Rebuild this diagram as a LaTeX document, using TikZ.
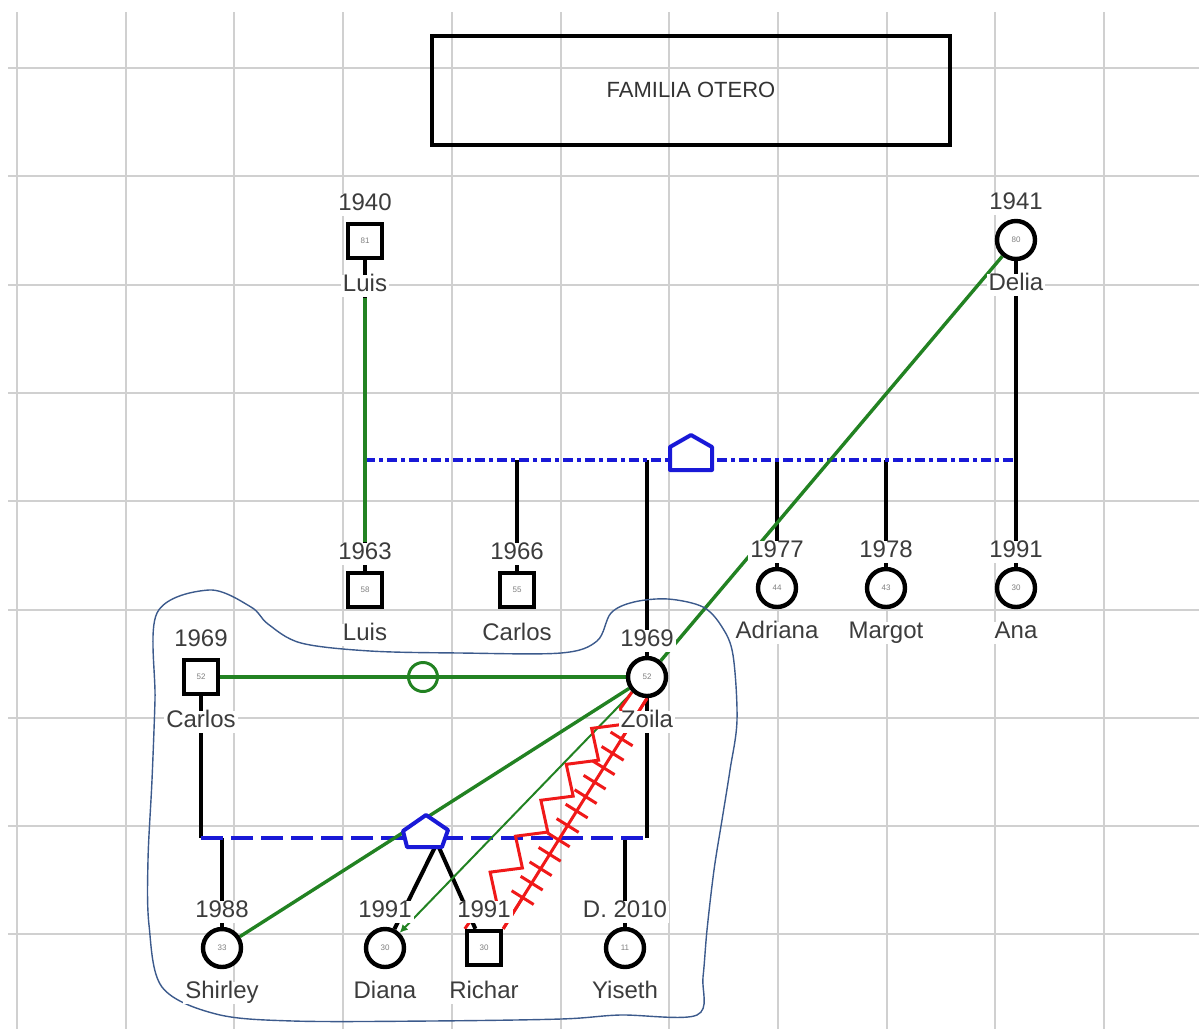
\documentclass[tikz,border=0pt]{standalone}
\usepackage{fontspec}
\setmainfont{Liberation Sans}
\usetikzlibrary{arrows.meta, positioning, calc, backgrounds, decorations.pathmorphing, decorations.pathreplacing}

\definecolor{relgreen}{RGB}{34,130,34}
\definecolor{famblue}{RGB}{25,25,215}
\definecolor{conflictred}{RGB}{240,25,25}
\definecolor{outlineblue}{RGB}{60,90,140}
\definecolor{labelgray}{RGB}{60,60,60}
\definecolor{gridgray}{RGB}{208,208,208}

\begin{document}
\begin{tikzpicture}[
		x=0.5pt, y=-0.5pt,
		every node/.style={font=\fontsize{12}{14}\selectfont, text=labelgray},
		male/.style={rectangle, draw=black, line width=2.2pt, fill=white, minimum size=17pt, inner sep=0pt, font=\fontsize{4}{4}\selectfont, text=gray},
		female/.style={circle, draw=black, line width=2.2pt, fill=white, minimum size=19pt, inner sep=0pt, font=\fontsize{4}{4}\selectfont, text=gray},
		lbl/.style={on grid, fill=white, inner sep=1pt, text height=0.72em, text depth=0.2em},
		titlebox/.style={rectangle, draw=black, line width=2pt, minimum width=259pt, minimum height=54.5pt, font=\fontsize{11}{13}\selectfont, text=black!80},
		gridline/.style={draw=gridgray, line width=1pt},
		descent/.style={draw=black, line width=2pt},
		famline/.style={draw=famblue, line width=2pt},
		homebox/.style={draw=famblue, line width=2pt, fill=white, line join=round},
		bond/.style={draw=relgreen, line width=1.7pt},
		bondring/.style={circle, draw=relgreen, line width=1.5pt, minimum size=14.5pt, inner sep=0pt},
		conflict/.style={draw=conflictred, line width=1.5pt},
		outline/.style={draw=outlineblue, line width=0.7pt}
		]
		
		\useasboundingbox (0,0) rectangle (1199,1029);
		
		% Title
		\node[titlebox] (title) at (691,90) {FAMILIA OTERO};
		
		% Persons
		\node[male] (luisA) at (365,241) {81};
		\node[female] (delia) at (1016,240) {80};
		\node[male] (luisB) at (365,590) {58};
		\node[male] (carlosB) at (517,590) {55};
		\node[female] (adriana) at (777,588) {44};
		\node[female] (margot) at (886,588) {43};
		\node[female] (ana) at (1016,588) {30};
		\node[male] (carlosZ) at (201,677) {52};
		\node[female] (zoila) at (647,677) {52};
		\node[female] (shirley) at (222,948) {33};
		\node[female] (diana) at (385,948) {30};
		\node[male] (richar) at (484,948) {30};
		\node[female] (yiseth) at (625,948) {11};
		
		% Years and names
		\foreach \p/\yr/\nm in {luisA/1940/Luis, delia/1941/Delia, luisB/1963/Luis, carlosB/1966/Carlos,
			adriana/1977/Adriana, margot/1978/Margot, ana/1991/Ana, carlosZ/1969/Carlos, zoila/1969/Zoila,
			shirley/1988/Shirley, diana/1991/Diana, richar/1991/Richar, yiseth/D. 2010/Yiseth} {
			\node[lbl, above=18pt of \p] (\p-y) {\yr};
			\node[lbl, below=22.5pt of \p] (\p-n) {\nm};
		}
		
		% Family points
		\coordinate (fam1) at (691,460);
		\coordinate (fam2) at (425,838);
		\coordinate (twins) at (437,843);
		
		\begin{scope}[on background layer]
			% Grid
			\foreach \k in {0,...,10}
				\draw[gridline] (17+108.7*\k,12) -- (17+108.7*\k,1029);
			\foreach \k in {0,...,8}
				\draw[gridline] (8,68+108.3*\k) -- (1199,68+108.3*\k);
			
			% Descent lines
			\draw[descent] (luisA) -- (luisA |- fam1);
			\draw[descent] (delia) -- (delia |- fam1);
			\foreach \c in {luisB, carlosB, zoila, adriana, margot, ana}
				\draw[descent] (\c |- fam1) -- (\c);
			\draw[descent] (carlosZ) -- (carlosZ |- fam2);
			\draw[descent] (zoila) -- (zoila |- fam2);
			\foreach \c in {shirley, yiseth}
				\draw[descent] (\c |- fam2) -- (\c);
			\draw[descent] (twins) -- (diana);
			\draw[descent] (twins) -- (richar);
			
			% Family lines
			\draw[famline, dash pattern=on 5pt off 2pt on 2pt off 2pt] (luisA |- fam1) -- (delia |- fam1);
			\draw[famline, dash pattern=on 11pt off 4pt] (carlosZ |- fam2) -- (zoila |- fam2);
			
			% Relationship lines
			\draw[bond] (luisA-n) -- (luisB-y);
			\draw[bond] (delia) -- (zoila);
			\draw[bond] (zoila) -- (shirley);
			\draw[bond, line width=2.2pt] (carlosZ) -- node[bondring] {} (zoila);
			\draw[bond, line width=1pt, -{Latex[length=4pt, width=4pt]}] (zoila) -- (diana);
			\draw[conflict, decorate, decoration={zigzag, segment length=22pt, amplitude=6pt, pre length=10pt, post length=8pt}]
				(zoila.225) -- (richar.north west);
			\draw[conflict] (zoila.south) -- (richar.north east);
			\draw[conflict, decorate, decoration={ticks, segment length=8.5pt, amplitude=6.5pt, pre length=24pt, post length=12pt}]
				(zoila.south) -- (richar.north east);
			
			% Outline of the household
			\draw[outline] plot[smooth cycle, tension=0.55] coordinates {
				(157,613) (209,590) (251,607) (268,624) (301,643) (370,651) (460,653) (561,653)
				(597,641) (611,613) (634,602) (668,599) (703,607) (722,627) (733,655) (737,720)
				(730,770) (722,820) (714,870) (707,930) (703,977) (697,1015) (620,1015) (561,1019)
				(430,1021) (293,1021) (216,1014) (162,987) (149,925) (148,860) (152,780) (155,700)};
		\end{scope}
		
		% Homes
		\draw[homebox] (fam1) ++(-21,10) -- ++(0,-23) -- ++(21,-12) -- ++(21,12) -- ++(0,23) -- cycle;
		\draw[homebox] (fam2) ++(-18,9) -- ++(-4,-16) -- ++(23,-16) -- ++(22,15) -- ++(-6,17) -- cycle;
		
	\end{tikzpicture}
\end{document}
